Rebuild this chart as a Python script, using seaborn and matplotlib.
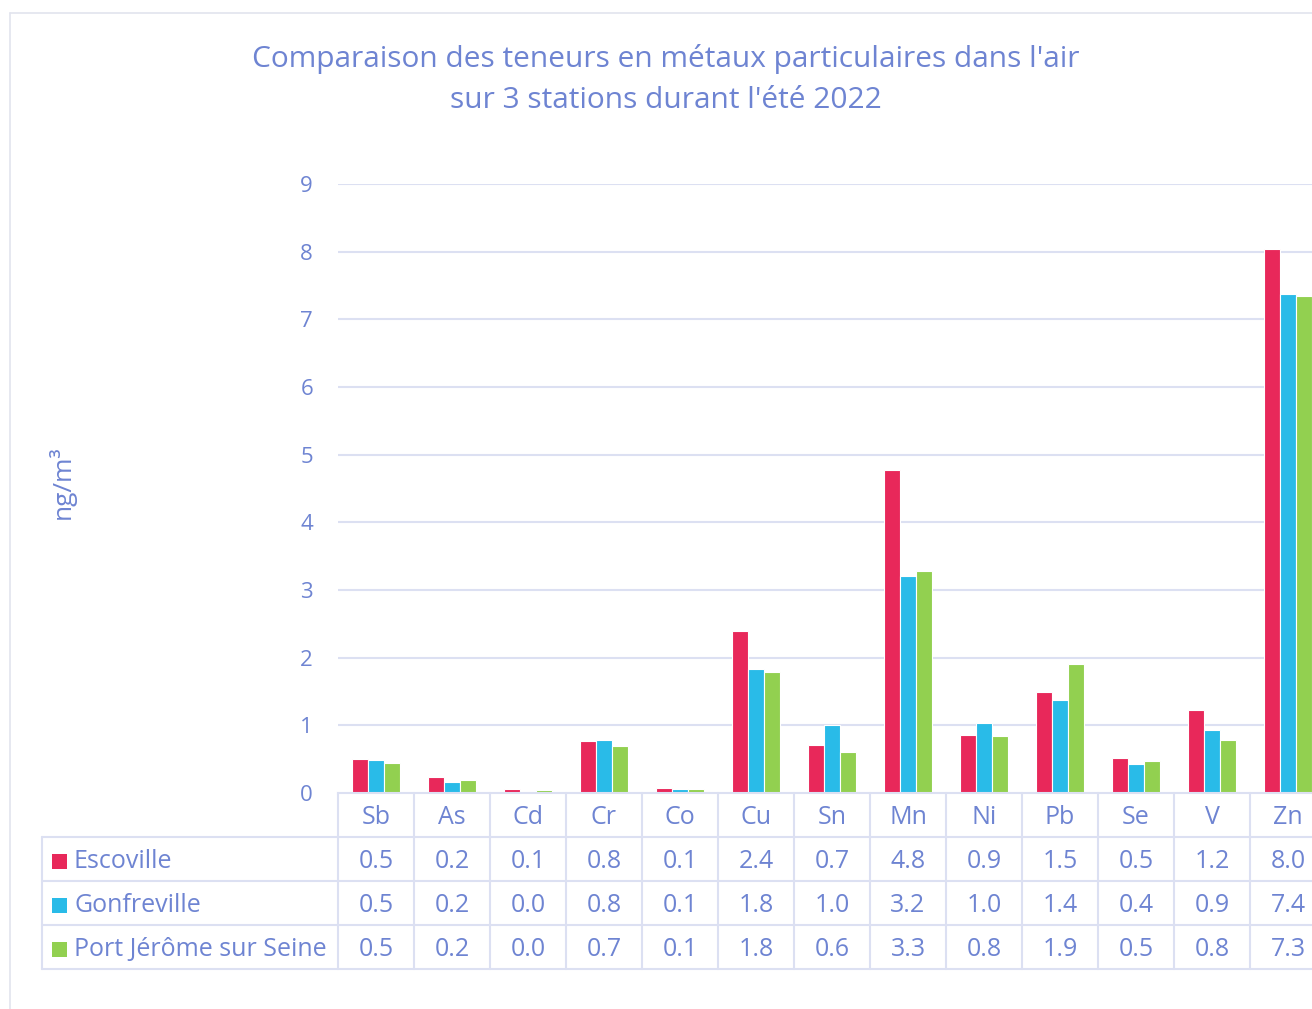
import matplotlib
matplotlib.use("Agg")
import matplotlib.pyplot as plt
import matplotlib.transforms as mtransforms
from matplotlib.lines import Line2D
from matplotlib.patches import Rectangle
import seaborn as sns
import pandas as pd

# data
metals = ["Sb", "As", "Cd", "Cr", "Co", "Cu", "Sn", "Mn", "Ni", "Pb", "Se", "V", "Zn"]
stations = ["Escoville", "Gonfreville", "Port Jérôme sur Seine"]
escoville = [0.50, 0.23, 0.06, 0.77, 0.08, 2.40, 0.71, 4.77, 0.86, 1.49, 0.51, 1.22, 8.04]
gonfreville = [0.49, 0.16, 0.03, 0.78, 0.06, 1.83, 1.00, 3.21, 1.04, 1.37, 0.43, 0.93, 7.38]
port_jerome = [0.45, 0.19, 0.04, 0.70, 0.06, 1.79, 0.60, 3.28, 0.84, 1.91, 0.47, 0.78, 7.35]
yticks = list(range(0, 10))

colors = ["#E8285A", "#29BBE8", "#92D050"]
text_color = "#6E84D2"
grid_color = "#DCE0F2"

df = pd.DataFrame({
    "metal": metals * 3,
    "station": [s for s in stations for _ in metals],
    "value": escoville + gonfreville + port_jerome,
})

sns.set_style("white")
plt.rcParams["font.family"] = ["Open Sans", "DejaVu Sans"]

W, H = 1312, 1009
fig = plt.figure(figsize=(W / 100, H / 100), dpi=100)

# plot area: x from 338 px, 76 px per category, zero at y=793, 9 at y=184
col_w = 76
ax_left, ax_bottom, ax_top = 338, 793, 184
ax = fig.add_axes([ax_left / W, (H - ax_bottom) / H,
                   len(metals) * col_w / W, (ax_bottom - ax_top) / H])

sns.barplot(data=df, x="metal", y="value", hue="station", palette=colors,
            saturation=1, width=0.64, edgecolor="white", linewidth=0.8,
            ax=ax, legend=False)

ax.set_xlim(-0.5, len(metals) - 0.5)
ax.set_ylim(0, 9)
ax.set_yticks(yticks)
ax.set_yticklabels([str(t) for t in yticks])
ax.tick_params(axis="y", length=0, pad=18, labelsize=16, labelcolor=text_color)
ax.set_xticks([])
ax.set_xlabel("")
ax.set_ylabel("")
for t in yticks[1:]:
    ax.axhline(t, color=grid_color, lw=1.5, zorder=0)
for side in ["top", "right", "left"]:
    ax.spines[side].set_visible(False)
ax.spines["bottom"].set_color(grid_color)
ax.spines["bottom"].set_linewidth(1.5)

fig.text(62 / W, 1 - 482 / H, "ng/m³", rotation=90, ha="center", va="center",
         fontsize=19, color=text_color)

fig.text(666 / W, 1 - 59 / H, "Comparaison des teneurs en métaux particulaires dans l'air",
         ha="center", va="center", fontsize=21.5, color=text_color)
fig.text(666 / W, 1 - 101 / H, "sur 3 stations durant l'été 2022",
         ha="center", va="center", fontsize=21.5, color=text_color)

# data table below the plot
row_h = 44 / (ax_bottom - ax_top)
tr_data = mtransforms.blended_transform_factory(ax.transData, ax.transAxes)
tr_fig = mtransforms.blended_transform_factory(fig.transFigure, ax.transAxes)
n_rows = 4
table_left = 42 / W

for i in range(len(metals) + 1):
    ax.add_line(Line2D([i - 0.5, i - 0.5], [0, -n_rows * row_h], transform=tr_data,
                       color=grid_color, lw=1.5, clip_on=False))
for r in range(1, n_rows + 1):
    ax.add_line(Line2D([table_left, 1.02], [-r * row_h, -r * row_h], transform=tr_fig,
                       color=grid_color, lw=1.5, clip_on=False))
ax.add_line(Line2D([table_left, table_left], [-row_h, -n_rows * row_h], transform=tr_fig,
                   color=grid_color, lw=1.5, clip_on=False))

for i, m in enumerate(metals):
    ax.text(i, -0.55 * row_h, m, transform=tr_data, ha="center", va="center",
            fontsize=18, color=text_color)

series = [escoville, gonfreville, port_jerome]
for r, (name, vals, c) in enumerate(zip(stations, series, colors), start=1):
    yc = -(r + 0.55) * row_h
    for i, v in enumerate(vals):
        ax.text(i, yc, f"{v:.1f}", transform=tr_data, ha="center", va="center",
                fontsize=18, color=text_color)
    fig.patches.append(Rectangle((52 / W, (H - 793) / H + yc * (ax_bottom - ax_top) / H - 7.5 / H),
                                 15 / W, 15 / H, transform=fig.transFigure,
                                 facecolor=c, edgecolor="none"))
    ax.text(74 / W, yc, name, transform=tr_fig, ha="left", va="center",
            fontsize=18, color=text_color)

# outer chart frame
fig.add_artist(Line2D([10 / W, 10 / W], [0, 1 - 13 / H], transform=fig.transFigure,
                      color="#E2E4EE", lw=1.2))
fig.add_artist(Line2D([10 / W, 1], [1 - 13 / H, 1 - 13 / H], transform=fig.transFigure,
                      color="#E2E4EE", lw=1.2))

fig.savefig("out.png", dpi=100)
